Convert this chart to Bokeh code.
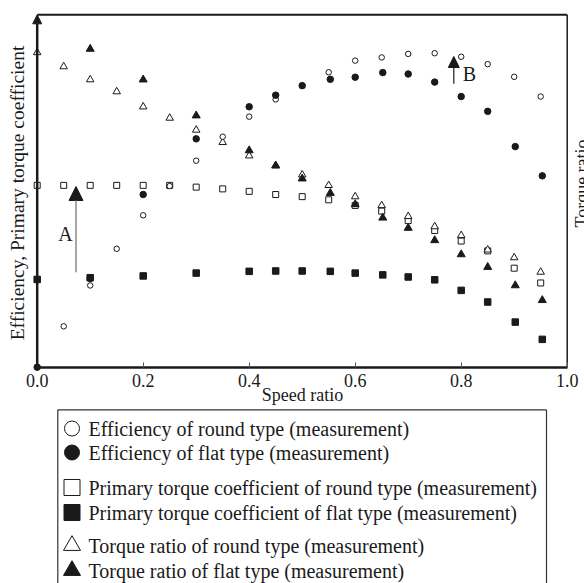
import math
from bokeh.plotting import figure
from bokeh.models import Range1d, FixedTicker, Label, Arrow, NormalHead, PrintfTickFormatter, LinearAxis
from bokeh.embed import file_html
from bokeh.resources import INLINE
from bokeh.core.properties import value

SERIF = "Liberation Serif"
INK = "#1a1a1a"

# ---------------- data ----------------
x_ticks = [0.0, 0.2, 0.4, 0.6, 0.8, 1.0]

# Efficiency, round type (open circles)
eff_round_x = [0.05, 0.10, 0.15, 0.20, 0.25, 0.30, 0.35, 0.40, 0.45, 0.50, 0.55, 0.60, 0.65, 0.70, 0.75, 0.80, 0.85, 0.90, 0.95]
eff_round_y = [0.116, 0.232, 0.336, 0.431, 0.514, 0.586, 0.654, 0.711, 0.760, 0.799, 0.837, 0.870, 0.879, 0.889, 0.891, 0.881, 0.860, 0.824, 0.768]

# Efficiency, flat type (filled circles)
eff_flat_x = [0.0, 0.10, 0.20, 0.30, 0.40, 0.45, 0.50, 0.553, 0.60, 0.652, 0.70, 0.75, 0.80, 0.85, 0.902, 0.953]
eff_flat_y = [0.0, 0.252, 0.490, 0.648, 0.739, 0.772, 0.799, 0.817, 0.823, 0.836, 0.832, 0.809, 0.768, 0.726, 0.626, 0.543]

# Primary torque coefficient, round type (open squares)
ptc_round_x = [0.0, 0.05, 0.10, 0.15, 0.20, 0.25, 0.30, 0.35, 0.40, 0.45, 0.50, 0.55, 0.60, 0.65, 0.70, 0.75, 0.80, 0.85, 0.90, 0.95]
ptc_round_y = [0.516, 0.516, 0.516, 0.516, 0.516, 0.516, 0.511, 0.506, 0.499, 0.490, 0.484, 0.475, 0.459, 0.443, 0.416, 0.388, 0.358, 0.330, 0.281, 0.239]

# Primary torque coefficient, flat type (filled squares)
ptc_flat_x = [0.0, 0.10, 0.20, 0.30, 0.40, 0.45, 0.50, 0.553, 0.60, 0.652, 0.70, 0.75, 0.80, 0.85, 0.902, 0.953]
ptc_flat_y = [0.249, 0.254, 0.259, 0.267, 0.272, 0.273, 0.273, 0.272, 0.267, 0.262, 0.256, 0.248, 0.218, 0.185, 0.128, 0.079]

# Torque ratio, round type (open triangles)
tr_round_x = [0.0, 0.05, 0.10, 0.15, 0.20, 0.25, 0.30, 0.35, 0.40, 0.45, 0.50, 0.55, 0.60, 0.65, 0.70, 0.75, 0.80, 0.85, 0.90, 0.95]
tr_round_y = [0.893, 0.853, 0.816, 0.782, 0.739, 0.707, 0.673, 0.638, 0.600, 0.572, 0.546, 0.516, 0.484, 0.459, 0.428, 0.399, 0.374, 0.333, 0.311, 0.270]

# Torque ratio, flat type (filled triangles)
tr_flat_x = [0.10, 0.20, 0.30, 0.40, 0.45, 0.50, 0.553, 0.60, 0.652, 0.70, 0.75, 0.80, 0.85, 0.902, 0.953]
tr_flat_y = [0.903, 0.816, 0.714, 0.615, 0.572, 0.535, 0.494, 0.462, 0.424, 0.395, 0.360, 0.320, 0.284, 0.232, 0.190]

legend_labels = [
    "Efficiency of round type (measurement)",
    "Efficiency of flat type (measurement)",
    "Primary torque coefficient of round type (measurement)",
    "Primary torque coefficient of flat type (measurement)",
    "Torque ratio of round type (measurement)",
    "Torque ratio of flat type (measurement)",
]
legend_markers = ["circle", "circle", "square", "square", "triangle", "triangle"]
legend_fills = ["white", INK, "white", INK, "white", INK]
legend_sizes = [15, 15, 16, 16, 17, 17]

# ---------------- layout geometry (page pixels) ----------------
W, H = 584, 583
X0_PX, X1_PX = 36.7, 566.7      # speed ratio 0 and 1
Y0_PX, Y1_PX = 366.7, 14.3      # value 0 and 1
SX = X1_PX - X0_PX
SY = Y0_PX - Y1_PX


def dx(px):
    return (px - X0_PX) / SX


def dy(py):
    return (Y0_PX - py) / SY


p = figure(width=W, height=H,
           x_range=Range1d(dx(0), dx(W)), y_range=Range1d(dy(H), dy(0)),
           x_axis_type=None, y_axis_type=None,
           output_backend="svg", toolbar_location=None,
           min_border_left=0, min_border_right=0, min_border_top=0, min_border_bottom=0)
p.outline_line_color = None
p.grid.visible = False
p.background_fill_color = "white"
p.border_fill_color = "white"

# x axis, fixed at value 0; labels pushed below the axis line
ax = LinearAxis(fixed_location=0, bounds=(0, 1),
                ticker=FixedTicker(ticks=x_ticks),
                formatter=PrintfTickFormatter(format="%.1f"))
ax.axis_line_color = INK
ax.axis_line_width = 2.5
ax.major_tick_in = 0
ax.major_tick_out = 5
ax.major_tick_line_color = "#555555"
ax.major_tick_line_width = 1
ax.minor_tick_line_color = None
ax.major_label_standoff = -25
ax.major_label_text_font = SERIF
ax.major_label_text_font_size = "18px"
ax.major_label_text_color = INK
p.add_layout(ax, "above")

# frame lines (top and right)
p.segment(x0=[0], y0=[1], x1=[1], y1=[1], line_color=INK, line_width=2)
p.segment(x0=[1], y0=[0], x1=[1], y1=[1], line_color=INK, line_width=1.5)

# left axis with arrow head
p.add_layout(Arrow(x_start=0, y_start=0, x_end=0, y_end=1, line_color=INK, line_width=2.5,
                   end=NormalHead(size=9, fill_color=INK, line_color=INK, line_width=1)))

# data series
p.scatter(ptc_round_x, ptc_round_y, marker="square", size=6, fill_color="white", line_color=INK, line_width=1)
p.scatter(ptc_flat_x, ptc_flat_y, marker="square", size=6.5, fill_color=INK, line_color=INK, line_width=1)
p.scatter(tr_round_x, tr_round_y, marker="triangle", size=7.5, fill_color="white", line_color=INK, line_width=1)
p.scatter(tr_flat_x, tr_flat_y, marker="triangle", size=8, fill_color=INK, line_color=INK, line_width=1)
p.scatter(eff_round_x, eff_round_y, marker="circle", size=5.5, fill_color="white", line_color=INK, line_width=1)
p.scatter(eff_flat_x, eff_flat_y, marker="circle", size=6.5, fill_color=INK, line_color=INK, line_width=1)

# annotations A and B
p.add_layout(Arrow(x_start=dx(75.5), y_start=dy(271.7), x_end=dx(75.5), y_end=dy(186), line_color="#8a8a8a",
                   line_width=1.5, end=NormalHead(size=14, fill_color=INK, line_color=INK, line_width=1)))
p.add_layout(Arrow(x_start=dx(453.3), y_start=dy(83.3), x_end=dx(453.3), y_end=dy(56), line_color=INK,
                   line_width=1.2, end=NormalHead(size=11, fill_color=INK, line_color=INK, line_width=1)))
p.add_layout(Label(x=dx(65), y=dy(233), text="A", text_font=SERIF, text_font_size="20px",
                   text_color=INK, text_align="center", text_baseline="middle"))
p.add_layout(Label(x=dx(469), y=dy(73.3), text="B", text_font=SERIF, text_font_size="20px",
                   text_color=INK, text_align="center", text_baseline="middle"))

# axis titles
p.add_layout(Label(x=dx(17), y=dy(192.5), angle=math.pi / 2, text="Efficiency, Primary torque coefficient",
                   text_font=SERIF, text_font_size="19.5px", text_color=INK,
                   text_align="center", text_baseline="alphabetic"))
p.add_layout(Label(x=dx(581.6), y=dy(183), angle=math.pi / 2, text="Torque ratio",
                   text_font=SERIF, text_font_size="18px", text_color=INK,
                   text_align="center", text_baseline="alphabetic"))
p.add_layout(Label(x=dx(302), y=dy(394.7), text="Speed ratio",
                   text_font=SERIF, text_font_size="18px", text_color=INK,
                   text_align="center", text_baseline="alphabetic"))

# ---------------- legend box ----------------
box_l, box_r, box_t = 57.3, 546.0, 409.3
p.segment(x0=[dx(box_l), dx(box_r), dx(box_l)], y0=[dy(box_t), dy(box_t), dy(box_t)],
          x1=[dx(box_l), dx(box_r), dx(box_r)], y1=[dy(H + 5), dy(H + 5), dy(box_t)],
          line_color="#333333", line_width=1.2)

row_py = [428, 452, 487, 512, 545, 570]
row_y = [dy(v) for v in row_py]
for i in range(len(legend_labels)):
    p.scatter([dx(71.5)], [row_y[i]], marker=legend_markers[i], size=legend_sizes[i],
              fill_color=legend_fills[i], line_color=INK, line_width=1)
p.text(x=[dx(88)] * len(legend_labels), y=row_y, text=legend_labels, text_font=value(SERIF),
       text_font_size="20px", text_color=INK, text_align="left", text_baseline="middle")

open("out.html", "w").write(file_html(p, INLINE))
